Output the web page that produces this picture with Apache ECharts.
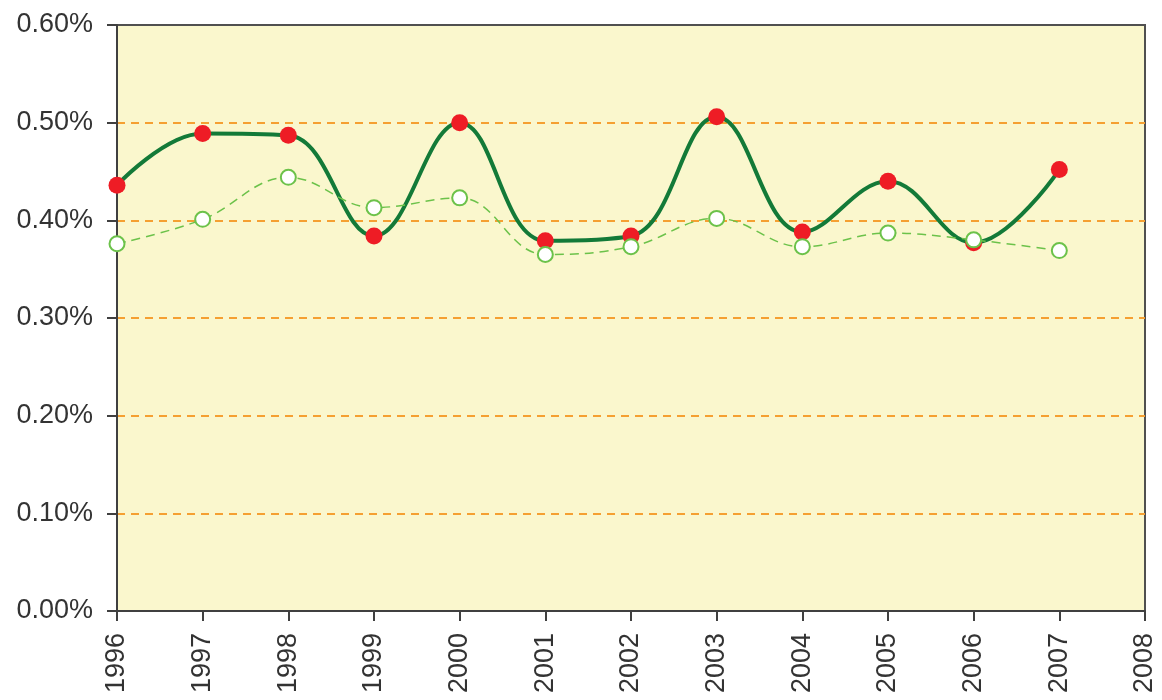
<!DOCTYPE html>
<html>
<head>
<meta charset="utf-8">
<script src="https://cdn.jsdelivr.net/npm/echarts@6/dist/echarts.min.js"></script>
<style>
  html, body { margin: 0; padding: 0; background: #fff; }
  #chart { width: 1162px; height: 700px; }
</style>
</head>
<body>
<div id="chart"></div>
<script>
// years on the x axis (2008 has no data)
var years = ['1996', '1997', '1998', '1999', '2000', '2001', '2002', '2003', '2004', '2005', '2006', '2007', '2008'];
// red markers, thick dark green line (percent)
var seriesA = [0.436, 0.489, 0.487, 0.384, 0.500, 0.379, 0.384, 0.506, 0.388, 0.440, 0.377, 0.452, null];
// open markers, dashed light green line (percent)
var seriesB = [0.376, 0.401, 0.444, 0.413, 0.423, 0.365, 0.373, 0.402, 0.373, 0.387, 0.380, 0.369, null];
var yTicks = [0, 0.1, 0.2, 0.3, 0.4, 0.5, 0.6];

var chart = echarts.init(document.getElementById('chart'));
var labelFont = { fontFamily: 'Liberation Sans', fontSize: 27, color: '#333' };
var gridOrange = '#F5A032';
// no dashed line on the bottom axis or the top border
var splitColors = yTicks.map(function (t, i) {
  return (i === 0 || i === yTicks.length - 1) ? 'rgba(0,0,0,0)' : gridOrange;
});

chart.setOption({
  animation: false,
  grid: {
    left: 117, right: 17, top: 25, bottom: 89,
    show: true,
    backgroundColor: '#FAF7CD',
    borderColor: '#505050',
    borderWidth: 2
  },
  xAxis: {
    type: 'category',
    data: years,
    boundaryGap: false,
    axisLine: { lineStyle: { color: '#404040', width: 2 } },
    axisTick: { show: true, length: 10, lineStyle: { color: '#404040', width: 2 }, alignWithLabel: true },
    axisLabel: Object.assign({ rotate: 90, margin: 22, interval: 0 }, labelFont),
    splitLine: { show: false }
  },
  yAxis: {
    type: 'value',
    min: yTicks[0],
    max: yTicks[yTicks.length - 1],
    interval: 0.1,
    axisLine: { show: true, lineStyle: { color: '#404040', width: 2 } },
    axisTick: { show: true, length: 10, lineStyle: { color: '#404040', width: 2 } },
    axisLabel: Object.assign({
      margin: 24,
      formatter: function (v) { return v.toFixed(2) + '%'; }
    }, labelFont),
    splitLine: {
      show: true,
      lineStyle: { color: splitColors, width: 2, type: [8, 6] }
    }
  },
  series: [
    {
      name: 'A',
      type: 'line',
      data: seriesA,
      smooth: 0.4,
      symbol: 'circle',
      symbolSize: 17,
      itemStyle: { color: '#EE1C25' },
      lineStyle: { color: '#137A38', width: 4 },
      z: 2
    },
    {
      name: 'B',
      type: 'line',
      data: seriesB,
      smooth: 0.4,
      symbol: 'emptyCircle',
      symbolSize: 15,
      itemStyle: { color: '#6CC24A', borderWidth: 1.5 },
      lineStyle: { color: '#6CC24A', width: 1.5, type: [9, 6] },
      z: 3
    }
  ]
});
</script>
</body>
</html>
